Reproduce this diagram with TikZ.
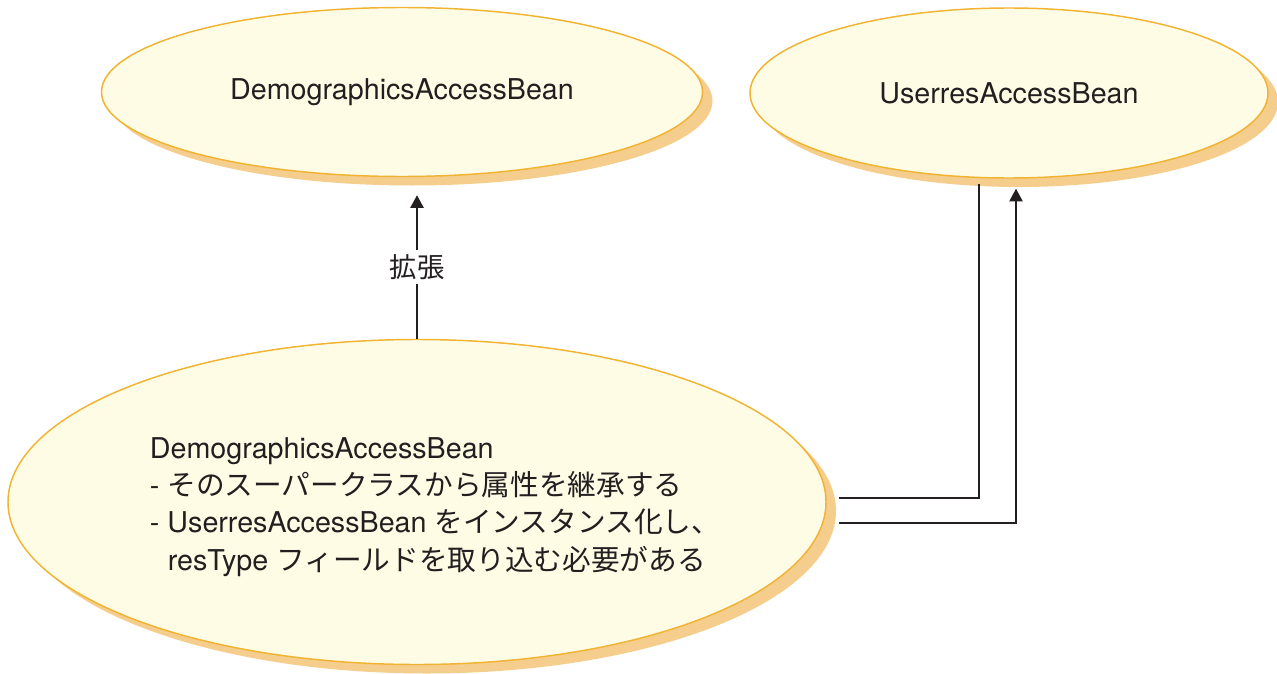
\documentclass[tikz,border=0pt]{standalone}
\usepackage{fontspec}
\setmainfont{TeX Gyre Heros}
\newfontfamily\jp{Noto Sans CJK JP}
\usetikzlibrary{shapes.geometric,shadows,calc,arrows.meta}

\definecolor{beanfill}{RGB}{255,252,230}
\definecolor{beanline}{RGB}{240,180,50}
\definecolor{beanshade}{RGB}{245,206,142}
\definecolor{inktext}{RGB}{35,31,32}

\tikzset{every picture/.style={line width=0.75pt}}
\tikzset{
  bean/.style={ellipse, draw=beanline, fill=beanfill, line width=1.1pt, inner sep=0pt,
    drop shadow={shadow xshift=7.5pt, shadow yshift=-6.75pt, fill=beanshade, opacity=1},
    text=inktext, font=\fontsize{21.5}{28}\selectfont},
  link/.style={line width=1.1pt, draw=inktext},
  linkarrow/.style={link, -{Triangle[length=9.5pt,width=10pt]}},
}

\begin{document}
\begin{tikzpicture}[x=0.75pt,y=0.75pt,yscale=-1,xscale=1]
\useasboundingbox (0,0) rectangle (1277,674);

% Ellipse
\node [bean, minimum width=450.75pt, minimum height=126.75pt] (demo) at (402,92) {DemographicsAccessBean};
% Ellipse
\node [bean, minimum width=388.5pt, minimum height=127.5pt] (userres) at (1009,93) {UserresAccessBean};
% Ellipse
\node [bean, minimum width=613.5pt, minimum height=243.75pt] (sub) at (417,502) {};

% Text Node
\node [align=left, inner sep=0pt, text=inktext, font=\fontsize{21.5}{28}\selectfont] (subtext) at ($(sub.center)+(18,5)$)
  {DemographicsAccessBean\\- {\jp そのスーパークラスから属性を継承する}\\- UserresAccessBean {\jp をインスタンス化し、}\\\hspace*{13.5pt}resType {\jp フィールドを取り込む必要がある}};

%Straight Lines
\draw [linkarrow] (sub.north) -- ($(sub.north |- demo.south)+(0,18)$)
  node [midway, fill=white, inner sep=3pt, text=inktext, font=\fontsize{20.5}{24}\jp] (extlabel) {拡張};
%Straight Lines
\draw [link] ($(sub.east)+(12,-4)$) -| ($(userres.south)+(-30,5)$);
%Straight Lines
\draw [linkarrow] ($(sub.east)+(12,21)$) -| ($(userres.south)+(7,10)$);

\end{tikzpicture}
\end{document}
